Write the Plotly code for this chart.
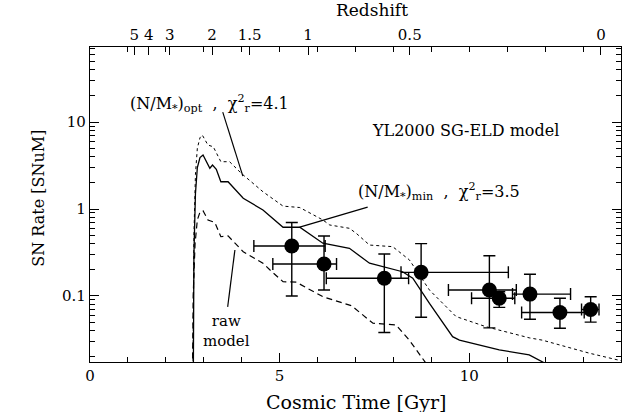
import numpy as np
import plotly.graph_objects as go

# ---- model curves (cosmic time in Gyr, SN rate in SNuM) ----
t_opt = [2.71, 2.74, 2.78, 2.83, 2.90, 2.96, 3.11, 3.25, 3.45, 3.68, 3.99, 4.56, 5.09, 5.53,
         6.14, 6.32, 6.84, 7.02, 7.37, 7.98, 8.42, 8.95, 9.65, 10.44, 11.58, 11.93, 13.16, 14.0]
n_opt = [0.005, 0.5, 2.5, 5.0, 6.6, 7.1, 5.44, 5.2, 3.5, 3.5, 2.57, 1.58, 1.08, 1.04,
         0.748, 0.655, 0.60, 0.525, 0.385, 0.369, 0.26, 0.117, 0.058, 0.0443, 0.033, 0.031, 0.022, 0.018]

t_min = [2.72, 2.74, 2.78, 2.83, 2.90, 2.98, 3.16, 3.23, 3.33, 3.45, 3.64, 4.04, 4.56, 5.09,
         5.53, 6.14, 6.84, 7.37, 8.24, 8.51, 8.95, 9.56, 9.74, 10.44, 10.79, 11.58, 12.0, 12.5]
n_min = [0.005, 0.3, 1.5, 3.0, 3.9, 4.18, 2.94, 3.2, 2.86, 2.06, 2.06, 1.33, 0.975, 0.617,
         0.617, 0.404, 0.353, 0.238, 0.19, 0.16, 0.082, 0.034, 0.031, 0.026, 0.024, 0.021, 0.0168, 0.012]

t_raw = [2.69, 2.72, 2.77, 2.83, 2.90, 2.98, 3.11, 3.29, 3.45, 3.64, 4.04, 4.56, 4.74, 5.09,
         5.44, 6.14, 6.90, 7.46, 8.07, 8.42, 8.86, 9.0]
n_raw = [0.003, 0.1, 0.4, 0.75, 0.92, 0.957, 0.748, 0.70, 0.48, 0.49, 0.323, 0.238, 0.2, 0.146,
         0.144, 0.098, 0.077, 0.0485, 0.0464, 0.031, 0.0168, 0.012]

# ---- observed rates ----
t_obs = [5.32, 6.17, 7.76, 8.73, 10.53, 10.79, 11.60, 12.39, 13.20]
t_obs_lo = [4.32, 4.82, 6.23, 8.20, 9.45, 10.06, 11.14, 11.38, 12.96]
t_obs_hi = [6.20, 6.50, 8.40, 11.03, 11.24, 11.20, 12.67, 13.03, 13.42]
r_obs = [0.376, 0.233, 0.160, 0.187, 0.117, 0.094, 0.105, 0.0645, 0.070]
r_obs_lo = [0.100, 0.117, 0.038, 0.057, 0.043, 0.074, 0.054, 0.0426, 0.050]
r_obs_hi = [0.70, 0.49, 0.304, 0.40, 0.29, 0.112, 0.178, 0.094, 0.098]

# ---- redshift axis ----
z_labels = ["5", "4", "3", "2", "1.5", "1", "0.5", "0"]
z_times = [1.17, 1.55, 2.10, 3.22, 4.21, 5.75, 8.43, 13.47]

x_range = [0, 14]
y_range = [np.log10(0.0174), np.log10(73)]

FONT = "DejaVu Serif"
BLACK = "black"

fig = go.Figure()
fig.add_trace(go.Scatter(x=t_opt, y=n_opt, mode="lines",
                         line=dict(color=BLACK, width=1, dash="dot"), hoverinfo="skip"))
fig.add_trace(go.Scatter(x=t_min, y=n_min, mode="lines",
                         line=dict(color=BLACK, width=1.3), hoverinfo="skip"))
fig.add_trace(go.Scatter(x=t_raw, y=n_raw, mode="lines",
                         line=dict(color=BLACK, width=1.2, dash="6px,4px"), hoverinfo="skip"))

fig.add_trace(go.Scatter(
    x=t_obs, y=r_obs, mode="markers",
    marker=dict(color=BLACK, size=15, symbol="circle"),
    error_y=dict(type="data", symmetric=False,
                 array=[h - v for h, v in zip(r_obs_hi, r_obs)],
                 arrayminus=[v - l for l, v in zip(r_obs_lo, r_obs)],
                 color=BLACK, thickness=1.4, width=6),
    error_x=dict(type="data", symmetric=False,
                 array=[h - v for h, v in zip(t_obs_hi, t_obs)],
                 arrayminus=[v - l for l, v in zip(t_obs_lo, t_obs)],
                 color=BLACK, thickness=1.4, width=6),
    hoverinfo="skip"))

# invisible trace to carry the top (redshift) axis
fig.add_trace(go.Scatter(x=t_obs, y=r_obs, xaxis="x2", mode="markers",
                         marker=dict(opacity=0), hoverinfo="skip"))

minor_y = [d * k for d in (0.01, 0.1, 1, 10) for k in range(2, 10)]

fig.update_layout(
    width=643, height=412,
    margin=dict(l=90, r=22, t=47, b=50),
    paper_bgcolor="white", plot_bgcolor="white",
    showlegend=False,
    font=dict(family=FONT, size=15, color=BLACK),
    xaxis=dict(range=x_range, tickmode="array", tickvals=[0, 5, 10], ticktext=["0", "5", "10"],
               ticks="inside", ticklen=9, tickwidth=1, tickcolor=BLACK,
               minor=dict(tickmode="linear", tick0=0, dtick=1, ticks="inside", ticklen=5,
                          tickcolor=BLACK, tickwidth=1),
               showline=True, linecolor=BLACK, linewidth=1.2, mirror=True,
               showgrid=False, zeroline=False, automargin=False,
               tickfont=dict(size=15)),
    xaxis2=dict(range=x_range, overlaying="x", side="top", tickmode="array",
                tickvals=z_times, ticktext=z_labels,
                ticks="inside", ticklen=8, tickwidth=1, tickcolor=BLACK,
                minor=dict(tickmode="linear", tick0=0, dtick=1, ticks="inside", ticklen=5,
                           tickcolor=BLACK, tickwidth=1),
                showline=True, linecolor=BLACK, linewidth=1.2, automargin=False,
                showgrid=False, zeroline=False, tickfont=dict(size=15)),
    yaxis=dict(type="log", range=y_range, tickmode="array", tickvals=[0.1, 1, 10],
               ticktext=["0.1", "1", "10"],
               ticks="inside", ticklen=9, tickwidth=1, tickcolor=BLACK,
               minor=dict(tickmode="array", tickvals=minor_y, ticks="inside", ticklen=5,
                          tickcolor=BLACK, tickwidth=1),
               showline=True, linecolor=BLACK, linewidth=1.2, mirror="ticks",
               showgrid=False, zeroline=False, automargin=False, tickfont=dict(size=15)),
)

annos = [
    dict(text="(N/M<sub>*</sub>)<sub>opt</sub>  ,  χ<sup>2</sup><sub>r</sub>=4.1",
         x=3.16, y=1.218),
    dict(text="YL2000 SG-ELD model", x=9.9, y=0.908),
    dict(text="(N/M<sub>*</sub>)<sub>min</sub>  ,  χ<sup>2</sup><sub>r</sub>=3.5",
         x=9.21, y=0.20),
]
for a in annos:
    fig.add_annotation(text=a["text"], x=a["x"], y=a["y"], xref="x", yref="y",
                       showarrow=False, font=dict(family=FONT, size=16, color=BLACK))
fig.add_annotation(text="raw<br>model", x=3.6, y=-1.40, xref="x", yref="y",
                   showarrow=False, font=dict(family=FONT, size=15, color=BLACK))

# axis titles placed as text
fig.add_annotation(text="Redshift", xref="paper", yref="paper", x=0.531, y=1,
                   yshift=37, yanchor="middle", showarrow=False, font=dict(size=17))
fig.add_annotation(text="Cosmic Time [Gyr]", xref="paper", yref="paper", x=0.5, y=0,
                   yshift=-40, yanchor="middle", showarrow=False, font=dict(size=19))
fig.add_annotation(text="SN Rate [SNuM]", xref="paper", yref="paper", x=0, y=0.52,
                   xshift=-63, textangle=-90, showarrow=False, font=dict(size=16))

# pointer lines (shape coordinates in data units)
for (x0, y0, x1, y1) in [(3.50, 13.0, 4.03, 2.39),
                         (5.53, 0.62, 7.32, 1.05),
                         (3.82, 0.338, 3.63, 0.0748)]:
    fig.add_shape(type="line", xref="x", yref="y", x0=x0, y0=y0, x1=x1, y1=y1,
                  line=dict(color=BLACK, width=1.2))

fig.write_html("out.html", config={"displayModeBar": False},
               post_script="document.body.style.margin='0';document.body.style.overflow='hidden';")
